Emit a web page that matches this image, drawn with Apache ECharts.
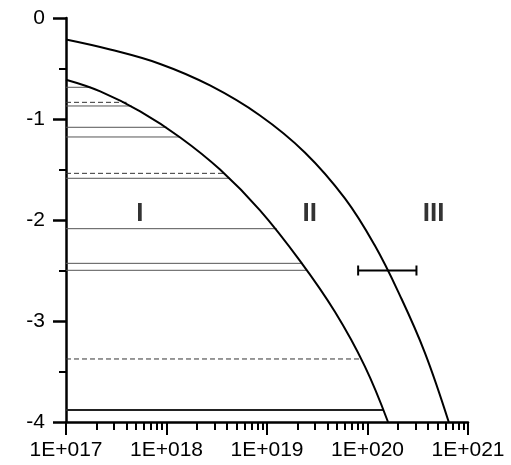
<!DOCTYPE html>
<html>
<head>
<meta charset="utf-8">
<script src="https://cdn.jsdelivr.net/npm/echarts@6/dist/echarts.min.js"></script>
<style>
html,body{margin:0;padding:0;background:#fff;}
#chart{width:511px;height:465px;}
</style>
</head>
<body>
<div id="chart"></div>
<script>
// ---- data ----
const xTickLabels = ['1E+017', '1E+018', '1E+019', '1E+020', '1E+021'];
const yTickLabels = ['-4', '-3', '-2', '-1', '0'];
const xMinorTicks = [
  2e17,3e17,4e17,5e17,6e17,7e17,8e17,9e17,
  2e18,3e18,4e18,5e18,6e18,7e18,8e18,9e18,
  2e19,3e19,4e19,5e19,6e19,7e19,8e19,9e19,
  2e20,3e20,4e20,5e20,6e20,7e20,8e20,9e20
];
const outerCurveX = [1e17, 2.75e17, 8.65e17, 2.71e18, 8.52e18, 2.38e19, 5.96e19, 1.18e20, 2.10e20, 3.71e20, 6.43e20];
const outerCurveY = [-0.213, -0.312, -0.455, -0.668, -0.965, -1.331, -1.786, -2.251, -2.746, -3.31, -4.0];
const innerCurveX = [1e17, 2.19e17, 5.47e17, 1.37e18, 3.41e18, 8.52e18, 2.13e19, 4.74e19, 9.41e19, 1.6e20];
const innerCurveY = [-0.612, -0.727, -0.925, -1.183, -1.501, -1.905, -2.405, -2.909, -3.449, -4.0];
const solidLevelY   = [-0.686, -0.871, -1.082, -1.178, -1.587, -2.086, -2.429, -2.498];
const solidLevelEnd = [1.78e17, 4.5e17, 1.01e18, 1.36e18, 4.29e18, 1.25e19, 2.27e19, 2.48e19];
const dashedLevelY   = [-0.835, -1.538, -3.376];
const dashedLevelEnd = [4.0e17, 3.8e18, 8.73e19];
const baseLevelY = [-3.881];
const baseLevelEnd = [1.43e20];
const levelStart = 1e17;
const errorBarY = -2.5;
const errorBarLow = 8.07e19;
const errorBarHigh = 3.07e20;
const regionNames = ['I', 'II', 'III'];
const regionX = [5.44e17, 2.66e19, 4.55e20];
const regionY = [-1.936, -1.936, -1.936];

// ---- chart ----
const FONT = 'Liberation Sans, Arial, sans-serif';
const chart = echarts.init(document.getElementById('chart'), null, {renderer: 'canvas'});

const series = [];
function curve(xs, ys) {
  return {
    type: 'line', smooth: 0.4, symbol: 'none', silent: true,
    data: xs.map((x, i) => [x, ys[i]]),
    lineStyle: {color: '#000', width: 2}, z: 5
  };
}
series.push(curve(outerCurveX, outerCurveY));
series.push(curve(innerCurveX, innerCurveY));

solidLevelY.forEach((y, i) => series.push({
  type: 'line', symbol: 'none', silent: true,
  data: [[levelStart, y], [solidLevelEnd[i], y]],
  lineStyle: {color: '#555', width: 1}, z: 3
}));
dashedLevelY.forEach((y, i) => series.push({
  type: 'line', symbol: 'none', silent: true,
  data: [[levelStart, y], [dashedLevelEnd[i], y]],
  lineStyle: {color: '#333', width: 1, type: [5, 3]}, z: 3
}));
baseLevelY.forEach((y, i) => series.push({
  type: 'line', symbol: 'none', silent: true,
  data: [[levelStart, y], [baseLevelEnd[i], y]],
  lineStyle: {color: '#222', width: 2}, z: 3
}));
series.push({
  type: 'line', silent: true,
  data: [[errorBarLow, errorBarY], [errorBarHigh, errorBarY]],
  symbol: 'rect', symbolSize: [2, 10], showSymbol: true,
  itemStyle: {color: '#000'},
  lineStyle: {color: '#000', width: 2}, z: 6
});
series.push({
  type: 'scatter', silent: true, symbolSize: 0.1,
  itemStyle: {color: 'rgba(0,0,0,0)'},
  data: regionNames.map((n, i) => ({name: n, value: [regionX[i], regionY[i]]})),
  label: {
    show: true, position: 'inside', formatter: p => p.name,
    color: '#000', fontFamily: FONT, fontWeight: 'bold', fontSize: 26
  }, z: 7
});

const gridBox = {left: 66, right: 43, top: 18, bottom: 43, containLabel: false, outerBoundsMode: 'none'};
const logMin = Math.log10(1e17), logMax = Math.log10(1e21);
const hiddenY = (g) => ({gridIndex: g, type: 'value', min: -4, max: 0, show: false});

chart.setOption({
  animation: false,
  backgroundColor: '#fff',
  grid: [Object.assign({}, gridBox), Object.assign({}, gridBox), Object.assign({}, gridBox)],
  xAxis: [{
    gridIndex: 0,
    type: 'log', logBase: 10, min: 1e17, max: 1e21,
    position: 'bottom',
    axisLine: {show: true, onZero: false, lineStyle: {color: '#000', width: 2.5}},
    axisTick: {show: false},
    minorTick: {show: false},
    splitLine: {show: false},
    axisLabel: {
      margin: 18, color: '#000', fontFamily: FONT, fontSize: 21,
      formatter: (v, i) => xTickLabels[i]
    }
  }, {
    // major decade ticks, in log10 units
    gridIndex: 1, type: 'value', min: logMin, max: logMax, interval: 1,
    position: 'bottom',
    axisLine: {show: false, onZero: false},
    axisTick: {show: true, inside: false, length: 13, lineStyle: {color: '#000', width: 2}},
    axisLabel: {show: false},
    splitLine: {show: false}
  }, {
    // minor ticks 2..9 inside every decade, in log10 units
    gridIndex: 2, type: 'value', min: logMin, max: logMax,
    position: 'bottom',
    axisLine: {show: false, onZero: false},
    axisTick: {show: true, inside: false, length: 8, customValues: xMinorTicks.map(v => Math.log10(v)), lineStyle: {color: '#000', width: 2}},
    axisLabel: {show: false},
    splitLine: {show: false}
  }],
  yAxis: [{
    gridIndex: 0,
    type: 'value', min: -4, max: 0, interval: 1,
    axisLine: {show: true, onZero: false, lineStyle: {color: '#000', width: 2.5}},
    axisTick: {show: true, inside: false, length: 13, lineStyle: {color: '#000', width: 2.5}},
    minorTick: {show: true, splitNumber: 2, length: 7, lineStyle: {color: '#000', width: 2}},
    splitLine: {show: false},
    minorSplitLine: {show: false},
    axisLabel: {
      margin: 21, color: '#000', fontFamily: FONT, fontSize: 21,
      formatter: (v) => yTickLabels[Math.round(v) + 4]
    }
  }, hiddenY(1), hiddenY(2)],
  series: series
});
</script>
</body>
</html>
